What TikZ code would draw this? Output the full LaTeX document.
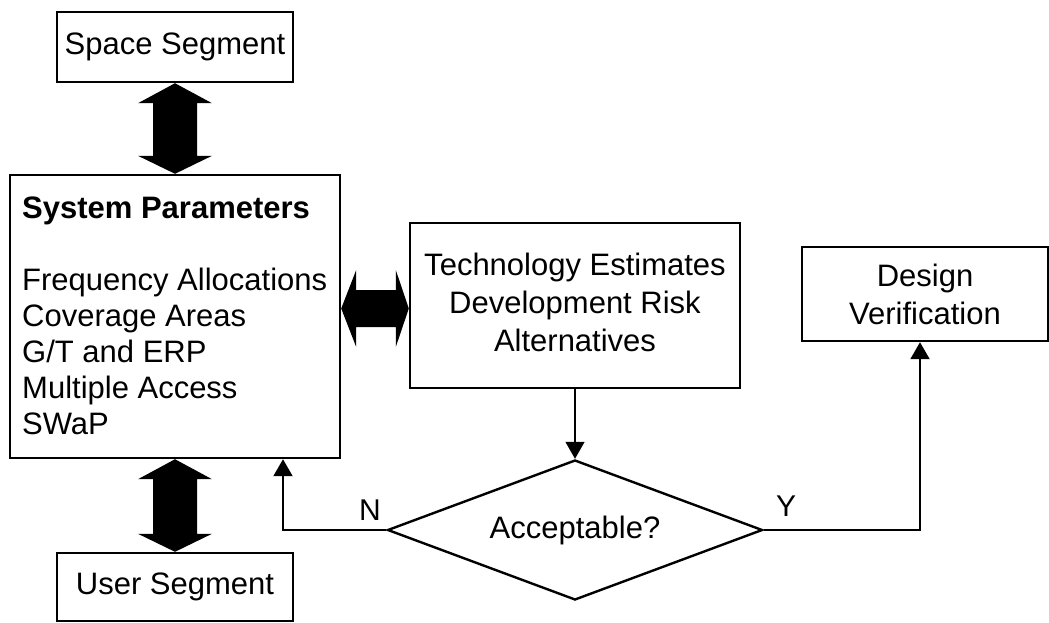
\documentclass[tikz,border=0pt]{standalone}
\usepackage{fontspec}
\setmainfont{Liberation Sans}
\usetikzlibrary{shapes.geometric,arrows.meta,calc}
\begin{document}
\begin{tikzpicture}[x=1pt,y=-1pt,
  txt/.style={font=\fontsize{31}{38}\selectfont, inner sep=0pt},
  box/.style={draw=black, line width=2.4pt, fill=white, inner sep=0pt, font=\fontsize{31}{38}\selectfont, align=center},
  conn/.style={draw=black, line width=2pt, -{Triangle[width=19pt,length=17pt]}},
  thinconn/.style={draw=black, line width=1.2pt, -{Triangle[width=19pt,length=17pt]}},
  fat/.style={fill=black}]
\useasboundingbox (0,0) rectangle (1049,622);
% boxes
\node[box, minimum width=236pt, minimum height=70pt] (ss) at (175,47) {Space Segment};
\node[box, minimum width=330pt, minimum height=283pt] (sp) at (175,316.5) {};
\node[txt, align=left, anchor=west, font=\fontsize{31}{36}\selectfont] (sptxt) at (22,316)
  {\textbf{System Parameters}\\[36pt]Frequency Allocations\\Coverage Areas\\G/T and ERP\\Multiple Access\\SWaP};
\node[box, minimum width=236pt, minimum height=68pt] (us) at (175,587) {User Segment};
\node[box, minimum width=330pt, minimum height=165pt] (tb) at (575,305.5)
  {\raisebox{-3pt}{\begin{tabular}{@{}c@{}}Technology Estimates\\Development Risk\\Alternatives\end{tabular}}};
\node[box, minimum width=246pt, minimum height=94pt] (dv) at (925,294) {Design\\Verification};
\node[box, shape=diamond, minimum width=375pt, minimum height=140pt, aspect=2.68] (dm) at (575,530) {\raisebox{-3pt}{Acceptable?}};
% fat double arrows
\fill[fat] (ss.south) -- ++(37,20) -- ++(-15,0) -- ($(sp.north)+(22,-18)$) -- ++(15,0) -- (sp.north)
  -- ++(-37,-18) -- ++(15,0) -- ($(ss.south)+(-22,20)$) -- ++(-15,0) -- cycle;
\fill[fat] (sp.south) -- ++(37,20) -- ++(-15,0) -- ($(us.north)+(22,-18)$) -- ++(15,0) -- (us.north)
  -- ++(-37,-18) -- ++(15,0) -- ($(sp.south)+(-22,20)$) -- ++(-15,0) -- cycle;
\path (sp.east) ++(0,-8) coordinate (hL);
\coordinate (hR) at (hL -| tb.west);
\fill[fat] (hL) -- ++(15,-38.5) -- ++(0,20) -- ($(hR)+(-13,-18.5)$) -- ++(0,-20) -- (hR)
  -- ++(-13,38.5) -- ++(0,-20) -- ($(hL)+(15,18.5)$) -- ++(0,20) -- cycle;
% connectors
\coordinate (nx) at (283,0);
\coordinate (yx) at (920,0);
\draw[thinconn] (tb.south) -- (dm.north);
\draw[conn] (dm.west) -| (nx |- sp.south);
\draw[conn] (dm.east) -| (yx |- dv.south);
% labels
\node[txt, font=\fontsize{30}{36}\selectfont] (nlab) at (370,510) {N};
\node[txt, font=\fontsize{30}{36}\selectfont] (ylab) at (786,506) {Y};
\end{tikzpicture}
\end{document}
